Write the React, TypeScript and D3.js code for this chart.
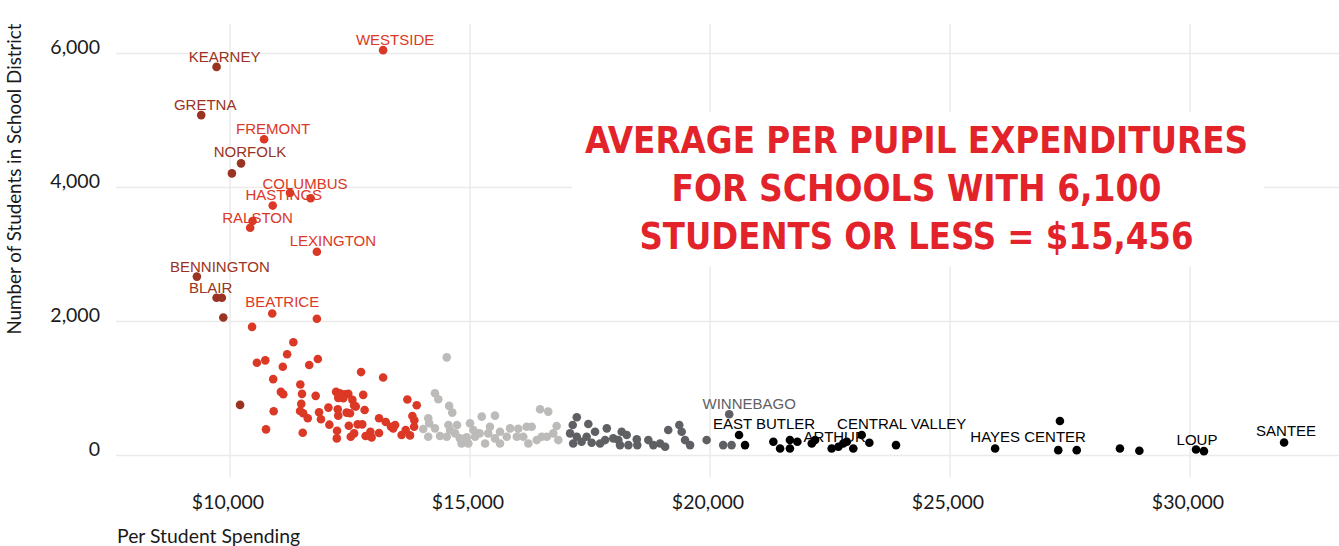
import { useEffect } from "react"
import * as d3 from "d3"

type Point = [number, number, string?]

// per student spending ($), number of students, optional label
const darkRedDistricts: Point[] = [
  [9720, 5800, "KEARNEY"], [9400, 5080, "GRETNA"], [10230, 4360, "NORFOLK"], [10040, 4210],
  [9310, 2670, "BENNINGTON"], [9720, 2355, "BLAIR"], [9830, 2355], [9860, 2060], [10210, 755],
]

const redDistricts: Point[] = [
  [13190, 6050, "WESTSIDE"], [10710, 4720, "FREMONT"], [11250, 3920, "COLUMBUS"], [11680, 3840],
  [10890, 3730, "HASTINGS"], [10470, 3500, "RALSTON"], [10420, 3400], [11810, 3040, "LEXINGTON"],
  [10880, 2120, "BEATRICE"], [11810, 2040], [10460, 1920], [11320, 1690], [11190, 1510],
  [10560, 1385], [10735, 1420], [11100, 1325], [11650, 1350], [11830, 1440], [12730, 1245],
  [13190, 1165], [10900, 1140], [11465, 1060], [11060, 950], [11110, 915], [11500, 920],
  [11785, 890], [12210, 950], [12290, 930], [12395, 915], [12465, 920], [12255, 860],
  [12360, 855], [12550, 830], [12585, 745], [12775, 905], [10910, 660], [11485, 770],
  [11460, 665], [11525, 630], [11620, 555], [11855, 645], [11895, 540], [12050, 715],
  [12245, 690], [12255, 595], [12430, 640], [12500, 630], [12620, 730], [12805, 680],
  [13695, 835], [13890, 750], [13105, 555], [13245, 500], [13355, 430], [13440, 455],
  [13800, 590], [13840, 525], [13835, 430], [12070, 460], [12475, 445], [12660, 465],
  [12755, 465], [12230, 370], [12225, 255], [12585, 330], [12515, 280], [12825, 290],
  [12925, 355], [12950, 270], [13105, 335], [13400, 405], [13575, 305], [13660, 380],
  [13750, 300], [10750, 390], [11515, 340],
]

const lightGreyDistricts: Point[] = [
  [14515, 1465], [14270, 930], [14340, 840], [14565, 740], [14630, 640], [14130, 555],
  [14150, 480], [14025, 395], [14130, 280], [14270, 405], [14375, 290], [14550, 455],
  [14585, 380], [14515, 280], [14690, 330], [14790, 255], [14825, 180], [14930, 270],
  [15000, 480], [15070, 380], [15105, 280], [14965, 180], [15245, 580], [15520, 595],
  [15415, 430], [15380, 330], [15315, 180], [15520, 255], [15625, 355], [15625, 180],
  [15835, 405], [15765, 280], [16005, 400], [15975, 280], [16180, 430], [16285, 430],
  [16110, 280], [16215, 180], [16390, 230], [16495, 280], [16600, 280], [16735, 330],
  [16805, 440], [16840, 230], [16460, 690], [16630, 655], [14730, 455], [15200, 330],
]

const darkGreyDistricts: Point[] = [
  [17225, 570], [17465, 470], [17140, 455], [17605, 355], [17850, 405], [17085, 330],
  [17225, 280], [17325, 205], [17150, 180], [17430, 280], [17535, 190], [17710, 180],
  [17815, 230], [17985, 255], [18090, 230], [18160, 355], [18265, 305], [18125, 155],
  [18300, 155], [18475, 240], [18485, 155], [18715, 230], [18820, 155], [18960, 180],
  [19065, 130], [19130, 380], [19360, 455], [19410, 355], [19480, 230], [19585, 155],
  [19930, 230], [20400, 615, "WINNEBAGO"], [20275, 155], [20450, 155],
]

const blackDistricts: Point[] = [
  [20605, 305, "EAST BUTLER"], [20730, 155], [21320, 205], [21460, 105], [21665, 230],
  [21665, 105], [21820, 205], [22120, 180], [22190, 230], [22535, 105, "ARTHUR"],
  [22675, 130], [22775, 180], [22850, 205], [22985, 105], [23160, 305, "CENTRAL VALLEY"],
  [23320, 190], [23875, 155], [25940, 105, "HAYES CENTER"], [27290, 515], [27255, 80],
  [27640, 80], [28540, 105], [28945, 70], [30125, 90, "LOUP"], [30290, 65],
  [31960, 195, "SANTEE"],
]

const xTicks = [10000, 15000, 20000, 25000, 30000]
const yTicks = [0, 2000, 4000, 6000]

const titleLines = [
  "AVERAGE PER PUPIL EXPENDITURES",
  "FOR SCHOOLS WITH 6,100",
  "STUDENTS OR LESS = $15,456",
]

// label offsets from the dot, in pixels
const labelNudge: Record<string, [number, number]> = {
  WESTSIDE: [12, -5], KEARNEY: [8, -5], GRETNA: [4, -5], FREMONT: [9, -5],
  NORFOLK: [9, -6], COLUMBUS: [15, -4], HASTINGS: [11, -6], RALSTON: [5, 2],
  LEXINGTON: [16, -6], BENNINGTON: [23, -5], BLAIR: [-6, -5], BEATRICE: [10, -6],
  WINNEBAGO: [20, -5], "EAST BUTLER": [25, -6], ARTHUR: [3, -6],
  "CENTRAL VALLEY": [40, -6], "HAYES CENTER": [33, -6], LOUP: [1, -4], SANTEE: [2, -6],
}

const series = [
  { data: lightGreyDistricts, color: "#bdbbb9" },
  { data: darkGreyDistricts, color: "#5f6063" },
  { data: blackDistricts, color: "#000000" },
  { data: redDistricts, color: "#db3825" },
  { data: darkRedDistricts, color: "#9a3322" },
]

const width = 1339
const height = 546
const axisFont = "Lato, 'Open Sans', sans-serif"
const labelFont = "'Liberation Sans', Arial, sans-serif"

export default function App() {
  useEffect(() => {
    document.body.style.margin = "0"
  }, [])

  const x = d3.scaleLinear().domain([7625, 33104]).range([116, 1339])
  const y = d3.scaleLinear().domain([-321, 6440]).range([477, 24])
  const dollars = d3.format("$,")
  const comma = d3.format(",")

  const titleWidths = [663, 490, 554]
  const titleCenter = 916.5

  return (
    <svg width={width} height={height} style={{ display: "block", background: "#fff" }}>
      {/* grid */}
      <g stroke="#ebebeb" strokeWidth={1.5}>
        {yTicks.map((t) => (
          <line key={"h" + t} x1={116} x2={width} y1={y(t)} y2={y(t)} />
        ))}
        {xTicks.map((t) => (
          <line key={"v" + t} x1={x(t)} x2={x(t)} y1={24} y2={477} />
        ))}
      </g>

      {/* tick labels */}
      <g fontFamily={axisFont} fontSize={19.5} fill="#1a1a1a">
        {yTicks.map((t) => (
          <text key={"yl" + t} x={100} y={y(t) - 7} textAnchor="end" dominantBaseline="central">
            {comma(t)}
          </text>
        ))}
        {xTicks.map((t) => (
          <text key={"xl" + t} x={x(t) - 2} y={509} textAnchor="middle">
            {dollars(t)}
          </text>
        ))}
      </g>

      <text x={117} y={543} fontFamily={axisFont} fontSize={19.4} fill="#1a1a1a">
        Per Student Spending
      </text>
      <text
        transform={`translate(21,179) rotate(-90)`}
        textAnchor="middle"
        fontFamily={axisFont}
        fontSize={18.8}
        fill="#1a1a1a"
      >
        Number of Students in School District
      </text>

      {/* points */}
      {series.map((s, i) => (
        <g key={"s" + i} fill={s.color}>
          {s.data.map((d, j) => (
            <circle key={j} cx={x(d[0])} cy={y(d[1])} r={4.3} />
          ))}
        </g>
      ))}

      {/* district labels */}
      {series.map((s, i) => (
        <g key={"l" + i} fill={s.color} fontFamily={labelFont} fontSize={15} textAnchor="middle">
          {s.data
            .filter((d) => d[2])
            .map((d) => {
              const [dx, dy] = labelNudge[d[2] as string] || [0, -5]
              return (
                <text key={d[2]} x={x(d[0]) + dx} y={y(d[1]) + dy}>
                  {d[2]}
                </text>
              )
            })}
        </g>
      ))}

      {/* title box */}
      <rect x={572} y={112} width={692} height={154} fill="#fff" />
      <g
        fill="#e3232a"
        fontFamily="'Liberation Sans Narrow', 'DejaVu Sans Condensed', 'Liberation Sans', sans-serif"
        fontWeight="bold"
        fontSize={38}
      >
        {titleLines.map((line, i) => (
          <text
            key={line}
            x={titleCenter - titleWidths[i] / 2}
            y={153.3 + i * 47.7}
            textLength={titleWidths[i]}
            lengthAdjust="spacingAndGlyphs"
          >
            {line}
          </text>
        ))}
      </g>
    </svg>
  )
}
